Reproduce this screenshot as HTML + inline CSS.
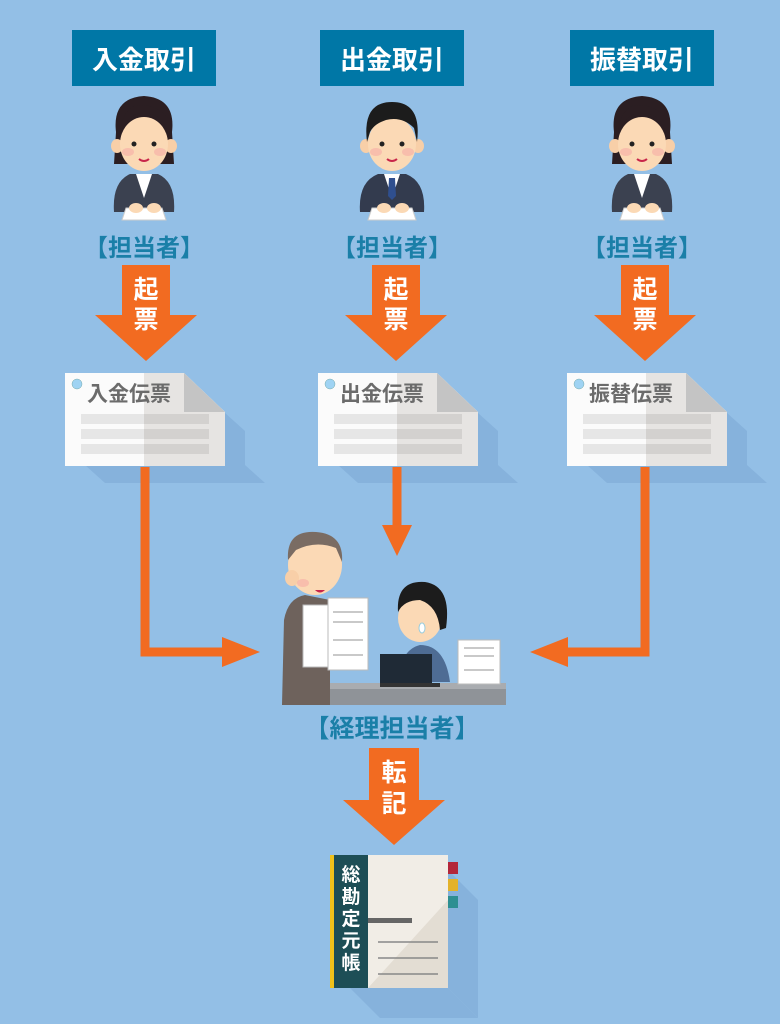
<!DOCTYPE html>
<html><head><meta charset="utf-8"><style>
html,body{margin:0;padding:0;background:#93bfe6;}
svg{display:block}
text{font-family:"Liberation Sans","Noto Sans CJK JP",sans-serif;font-weight:bold}
</style></head><body>
<svg width="780" height="1024" viewBox="0 0 780 1024" xmlns="http://www.w3.org/2000/svg">
<rect width="780" height="1024" fill="#93bfe6"/>
<defs>
<g id="woman">
 <path d="M-28 -10 Q-32 -44 0 -46 Q32 -44 28 -10 L30 22 L-30 22 Z" fill="#2b1e22"/>
 <ellipse cx="-27" cy="4" rx="6" ry="7" fill="#f8cfa8"/><ellipse cx="27" cy="4" rx="6" ry="7" fill="#f8cfa8"/>
 <ellipse cx="0" cy="2" rx="24" ry="27" fill="#fbd9b5"/>
 <path d="M-24 -8 Q-14 -34 6 -28 Q20 -26 24 -8 L24 -24 Q10 -40 -10 -36 Q-22 -30 -24 -10Z" fill="#2b1e22"/>
 <circle cx="-10" cy="2" r="2.5" fill="#222"/><circle cx="10" cy="2" r="2.5" fill="#222"/>
 <ellipse cx="-16" cy="10" rx="6" ry="4" fill="#f7b2a8" opacity=".7"/><ellipse cx="16" cy="10" rx="6" ry="4" fill="#f7b2a8" opacity=".7"/>
 <path d="M-5 17 Q0 21 5 17" stroke="#c8264a" stroke-width="2" fill="none"/>
 <path d="M-30 70 Q-32 40 -14 32 L14 32 Q32 40 30 70 Z" fill="#3b4150"/>
 <path d="M-8 32 L0 56 L8 32Z" fill="#fff"/>
 <path d="M-22 78 L22 78 L18 66 L-18 66Z" fill="#fff" stroke="#ccc"/>
 <ellipse cx="-8" cy="66" rx="7" ry="5" fill="#fbd9b5"/><ellipse cx="10" cy="66" rx="7" ry="5" fill="#fbd9b5"/>
</g>
<g id="man">
 <ellipse cx="-26" cy="4" rx="6" ry="7" fill="#f8cfa8"/><ellipse cx="26" cy="4" rx="6" ry="7" fill="#f8cfa8"/>
 <ellipse cx="0" cy="2" rx="24" ry="27" fill="#fbd9b5"/>
 <path d="M-25 0 Q-30 -40 0 -40 Q30 -40 25 0 L22 -14 Q10 -26 -6 -22 Q-18 -18 -22 -10Z" fill="#1c1c1c"/>
 <circle cx="-10" cy="2" r="2.5" fill="#222"/><circle cx="10" cy="2" r="2.5" fill="#222"/>
 <ellipse cx="-16" cy="10" rx="6" ry="4" fill="#f7b2a8" opacity=".7"/><ellipse cx="16" cy="10" rx="6" ry="4" fill="#f7b2a8" opacity=".7"/>
 <path d="M-5 17 Q0 21 5 17" stroke="#c8264a" stroke-width="2" fill="none"/>
 <path d="M-32 70 Q-34 40 -14 32 L14 32 Q34 40 32 70 Z" fill="#333b4e"/>
 <path d="M-8 32 L0 56 L8 32Z" fill="#fff"/><path d="M-3 36 L3 36 L4 54 L0 58 L-4 54Z" fill="#2f4f8f"/>
 <path d="M-24 78 L24 78 L20 66 L-20 66Z" fill="#fff" stroke="#ccc"/>
 <ellipse cx="-8" cy="66" rx="7" ry="5" fill="#fbd9b5"/><ellipse cx="10" cy="66" rx="7" ry="5" fill="#fbd9b5"/>
</g>
<g id="arrow">
 <rect x="-24" y="0" width="48" height="50" fill="#f26b21"/>
 <polygon points="-51,50 51,50 0,96" fill="#f26b21"/>
</g>
<g id="slip">
 <polygon points="20,92 180,92 200,110 40,110" fill="#86b2dc"/>
 <polygon points="160,40 160,92 180,110 180,58" fill="#86b2dc"/>
 <polygon points="0,0 119,0 160,39 160,93 0,93" fill="#fbfbfb"/>
 <polygon points="79,0 119,0 160,39 160,93 79,93" fill="#e6e4e2"/>
 <polygon points="119,0 160,39 119,39" fill="#c4c4c4"/>
 <rect x="16" y="41" width="128" height="10" fill="#e6e6e6"/><rect x="79" y="41" width="65" height="10" fill="#d3d1cf"/>
 <rect x="16" y="56" width="128" height="10" fill="#e6e6e6"/><rect x="79" y="56" width="65" height="10" fill="#d3d1cf"/>
 <rect x="16" y="71" width="128" height="10" fill="#e6e6e6"/><rect x="79" y="71" width="65" height="10" fill="#d3d1cf"/>
 <circle cx="12" cy="11" r="5" fill="#9fd3f3" stroke="#7aa" stroke-width=".5"/>
</g>
</defs>

<rect x="72" y="30" width="144" height="56" fill="#0077a6"/>
<rect x="320" y="30" width="144" height="56" fill="#0077a6"/>
<rect x="570" y="30" width="144" height="56" fill="#0077a6"/>
<text x="144" y="69" font-size="26" fill="#fff" text-anchor="middle">入金取引</text>
<text x="392" y="69" font-size="26" fill="#fff" text-anchor="middle">出金取引</text>
<text x="642" y="69" font-size="26" fill="#fff" text-anchor="middle">振替取引</text>

<use href="#woman" x="144" y="142"/>
<use href="#man" x="392" y="142"/>
<use href="#woman" x="642" y="142"/>

<g font-size="24" fill="#1a7fa8" text-anchor="middle">
<text x="144" y="256">【担当者】</text>
<text x="392" y="256">【担当者】</text>
<text x="642" y="256">【担当者】</text>
</g>

<use href="#arrow" x="146" y="265"/>
<use href="#arrow" x="396" y="265"/>
<use href="#arrow" x="645" y="265"/>
<g font-size="25" fill="#fff" text-anchor="middle">
<text x="146" y="298">起</text><text x="146" y="328">票</text>
<text x="396" y="298">起</text><text x="396" y="328">票</text>
<text x="645" y="298">起</text><text x="645" y="328">票</text>
</g>

<use href="#slip" x="65" y="373"/>
<use href="#slip" x="318" y="373"/>
<use href="#slip" x="567" y="373"/>
<g font-size="21" fill="#6b6b6b">
<text x="87" y="401">入金伝票</text>
<text x="340" y="401">出金伝票</text>
<text x="589" y="401">振替伝票</text>
</g>

<g fill="none" stroke="#f26b21" stroke-width="9">
<polyline points="145,467 145,652 224,652"/>
<line x1="397" y1="467" x2="397" y2="528"/>
<polyline points="645,467 645,652 566,652"/>
</g>
<g fill="#f26b21">
<polygon points="222,637 260,652 222,667"/>
<polygon points="382,525 412,525 397,556"/>
<polygon points="568,637 530,652 568,667"/>
</g>

<g>
 <rect x="324" y="683" width="182" height="22" fill="#8f9398"/>
 <rect x="324" y="683" width="182" height="6" fill="#a9acb0"/>
 <path d="M282 705 L284 620 Q288 598 305 595 L330 600 L330 705Z" fill="#6e625c"/>
 <ellipse cx="315" cy="565" rx="27" ry="30" fill="#fbd9b5"/>
 <path d="M288 560 Q286 530 316 532 Q344 534 342 562 L336 548 Q316 540 296 550Z" fill="#7a6c63"/>
 <ellipse cx="292" cy="578" rx="7" ry="8" fill="#f8cfa8"/>
 <ellipse cx="303" cy="583" rx="6" ry="4" fill="#f7b2a8" opacity=".7"/>
 <path d="M315 590 Q320 595 325 590" fill="#c8264a"/>
 <g fill="#fff" stroke="#bbb">
  <rect x="303" y="605" width="38" height="62"/><rect x="328" y="598" width="40" height="72"/>
 </g>
 <g stroke="#c9c9c9" stroke-width="2">
  <line x1="333" y1="612" x2="363" y2="612"/><line x1="333" y1="622" x2="363" y2="622"/><line x1="333" y1="640" x2="363" y2="640"/><line x1="333" y1="655" x2="363" y2="655"/>
 </g>
 <ellipse cx="420" cy="618" rx="22" ry="24" fill="#fbd9b5"/>
 <path d="M398 612 Q396 580 425 582 Q452 586 446 628 L440 630 Q438 606 420 600 Q404 600 398 612Z" fill="#1c1c1c"/>
 <ellipse cx="422" cy="628" rx="3" ry="5" fill="#fff" stroke="#9cd"/>
 <path d="M398 682 Q400 650 420 645 Q445 645 450 682Z" fill="#4e6c94"/>
 <rect x="380" y="654" width="52" height="30" fill="#1f2a36"/>
 <rect x="380" y="683" width="60" height="4" fill="#333"/>
 <rect x="458" y="640" width="42" height="44" fill="#fff" stroke="#bbb"/>
 <g stroke="#c9c9c9" stroke-width="2"><line x1="464" y1="648" x2="494" y2="648"/><line x1="464" y1="656" x2="494" y2="656"/><line x1="464" y1="670" x2="494" y2="670"/></g>
</g>
<text x="392" y="737" font-size="25" fill="#1a7fa8" text-anchor="middle">【経理担当者】</text>

<g transform="translate(394,748)">
 <rect x="-25" y="0" width="50" height="52" fill="#f26b21"/>
 <polygon points="-51,52 51,52 0,97" fill="#f26b21"/>
</g>
<text x="394" y="781" font-size="25" fill="#fff" text-anchor="middle">転</text>
<text x="394" y="812" font-size="25" fill="#fff" text-anchor="middle">記</text>

<polygon points="350,988 448,988 478,1018 380,1018" fill="#86b2dc"/>
<polygon points="448,870 478,900 478,1018 448,988" fill="#86b2dc"/>
<rect x="448" y="862" width="10" height="12" fill="#b3263a"/>
<rect x="448" y="879" width="10" height="12" fill="#e3b22a"/>
<rect x="448" y="896" width="10" height="12" fill="#2e8f92"/>
<rect x="330" y="855" width="118" height="133" fill="#f1ede6"/>
<polygon points="448,900 448,988 368,988" fill="#e3ddd3"/>
<rect x="330" y="855" width="4" height="133" fill="#f0c11a"/>
<rect x="334" y="855" width="34" height="133" fill="#1d4e56"/>
<rect x="368" y="918" width="44" height="5" fill="#666"/>
<g stroke="#888" stroke-width="1.5"><line x1="378" y1="942" x2="438" y2="942"/><line x1="378" y1="958" x2="438" y2="958"/><line x1="378" y1="974" x2="438" y2="974"/></g>
<g font-size="19" fill="#fff" text-anchor="middle">
<text x="351" y="881">総</text><text x="351" y="903">勘</text><text x="351" y="925">定</text><text x="351" y="947">元</text><text x="351" y="969">帳</text>
</g>
</svg>
</body></html>
